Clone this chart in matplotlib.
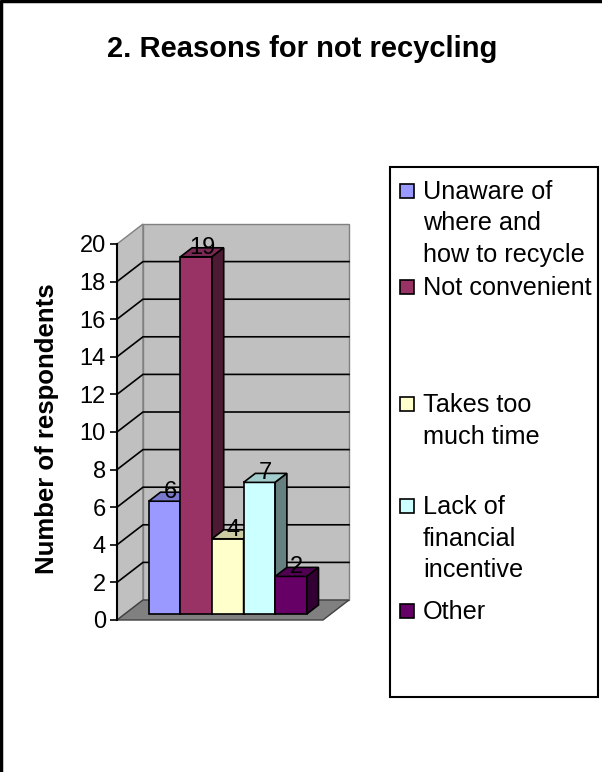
import matplotlib.pyplot as plt
from matplotlib.patches import Polygon, Rectangle

plt.rcParams['font.family'] = ['Liberation Sans', 'DejaVu Sans']

# survey answers, one series per reason
reasons = ["Unaware of\nwhere and\nhow to recycle", "Not convenient",
           "Takes too\nmuch time", "Lack of\nfinancial\nincentive", "Other"]
counts = [6, 19, 4, 7, 2]
front_colors = ["#9999FF", "#993366", "#FFFFCC", "#CCFFFF", "#660066"]
top_colors = ["#7A7ACC", "#7A2952", "#CCCCA3", "#A3CCCC", "#520052"]
side_colors = ["#4D4D80", "#4D1A33", "#808066", "#668080", "#330033"]
yticks = list(range(0, 21, 2))

W, H = 602, 772
fig = plt.figure(figsize=(W / 100, H / 100), dpi=100)

# front plane of the 3d box
ax = fig.add_axes([117 / W, (H - 620) / H, 206 / W, 376 / H])
xl, xr = -1.26, len(counts) - 0.5 + 0.76
ax.set_xlim(xl, xr)
ax.set_ylim(0, 20)
DX, DY = 0.823, 1.064      # depth offset of the back wall
d0, d1 = 0.3, 0.75         # bar depth span

wall = "#C0C0C0"
edge = "#808080"
ax.add_patch(Polygon([(xl, 0), (xl, 20), (xl + DX, 20 + DY), (xl + DX, DY)],
                     closed=True, fc=wall, ec=edge, lw=1, clip_on=False, zorder=1))
ax.add_patch(Polygon([(xl + DX, DY), (xl + DX, 20 + DY), (xr + DX, 20 + DY), (xr + DX, DY)],
                     closed=True, fc=wall, ec=edge, lw=1, clip_on=False, zorder=1))
ax.add_patch(Polygon([(xl, 0), (xr, 0), (xr + DX, DY), (xl + DX, DY)],
                     closed=True, fc="#808080", ec="#404040", lw=1, clip_on=False, zorder=1))

for v in yticks[1:-1]:
    ax.plot([xl, xl + DX, xr + DX], [v, v + DY, v + DY], color="black", lw=1.2,
            clip_on=False, zorder=2)

# bars, left to right so each front face covers the previous side face
for i, v in enumerate(counts):
    x0 = i - 0.5 + d0 * DX
    x1 = i + 0.5 + d0 * DX
    y0 = d0 * DY
    ox, oy = (d1 - d0) * DX, (d1 - d0) * DY
    ax.bar(i + d0 * DX, v, width=1.0, bottom=y0, color=front_colors[i],
           edgecolor="black", lw=1.2, zorder=3 + i, clip_on=False)
    ax.add_patch(Polygon([(x0, y0 + v), (x1, y0 + v), (x1 + ox, y0 + v + oy), (x0 + ox, y0 + v + oy)],
                         closed=True, fc=top_colors[i], ec="black", lw=1.2, zorder=3 + i, clip_on=False))
    ax.add_patch(Polygon([(x1, y0), (x1, y0 + v), (x1 + ox, y0 + v + oy), (x1 + ox, y0 + oy)],
                         closed=True, fc=side_colors[i], ec="black", lw=1.2, zorder=3 + i, clip_on=False))
    ax.text(i + 0.52 * DX, v + 0.75 * DY, str(v), ha="center", va="center",
            fontsize=17, zorder=20, clip_on=False)

for s in ["top", "right", "bottom"]:
    ax.spines[s].set_visible(False)
ax.spines["left"].set_linewidth(1.5)
ax.spines["left"].set_zorder(5)
ax.set_yticks(yticks)
ax.set_xticks([])
ax.tick_params(axis="y", length=5, width=1.2, pad=3, labelsize=17)
ax.patch.set_visible(False)

# overlay in pixel units for title, axis title, legend and border
ov = fig.add_axes([0, 0, 1, 1], zorder=-1)
ov.set_xlim(0, W)
ov.set_ylim(H, 0)
ov.axis("off")

ov.text(302, 49, "2. Reasons for not recycling", ha="center", va="center",
        fontsize=21, fontweight="bold")
ov.text(47, 429, "Number of respondents", rotation=90, ha="center", va="center",
        fontsize=18.5, fontweight="bold")

ov.add_patch(Rectangle((390, 167), 208, 530, fc="white", ec="black", lw=1.5))
entry_y = [192, 288, 405, 507, 612]
for lab, c, y in zip(reasons, front_colors, entry_y):
    ov.add_patch(Rectangle((400, y - 8), 14, 14, fc=c, ec="black", lw=1.2))
    for k, line in enumerate(lab.split("\n")):
        ov.text(423, y + k * 31.5, line, ha="left", va="center", fontsize=18.2)

ov.plot([1, 1, W], [H, 1, 1], color="black", lw=2.5)

fig.savefig("out.png", dpi=100)
